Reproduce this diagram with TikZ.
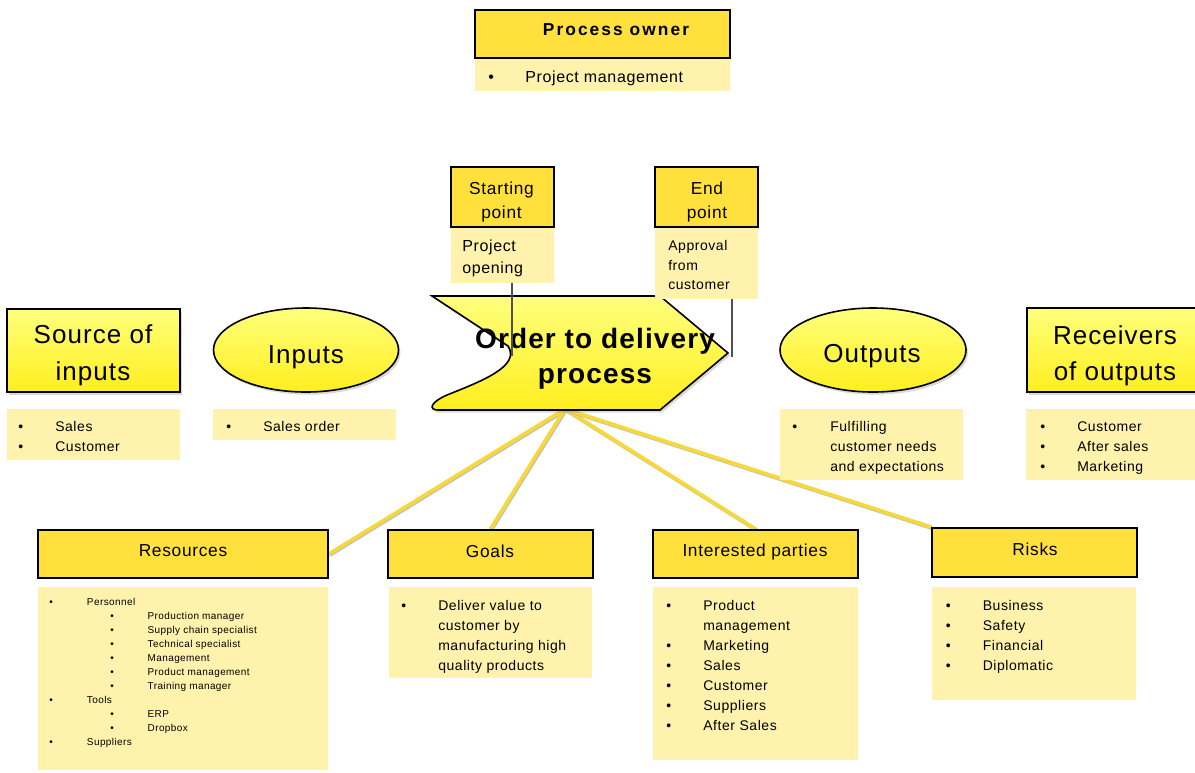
\documentclass[tikz,border=0pt]{standalone}
\usepackage{fontspec}
\setmainfont{Liberation Sans}[LetterSpace=4]
\usetikzlibrary{shapes.geometric,shadows,fit,backgrounds}
\definecolor{hdrY}{RGB}{255,224,60}
\definecolor{bodyY}{RGB}{255,242,172}
\definecolor{gradTop}{RGB}{255,255,125}
\definecolor{gradBot}{RGB}{255,238,30}
\definecolor{lineY}{RGB}{246,216,58}
\definecolor{gLine}{RGB}{80,80,80}
\begin{document}
\begin{tikzpicture}[x=0.75pt,y=-0.75pt,
  hdr/.style={draw=black, line width=1.5pt, fill=hdrY, inner sep=0pt,
    drop shadow={opacity=0.2, shadow xshift=1pt, shadow yshift=-1pt}},
  bodybox/.style={fill=bodyY, inner sep=0pt},
  bigbox/.style={draw=black, line width=1.4pt, top color=gradTop, bottom color=gradBot, inner sep=0pt,
    drop shadow={opacity=0.3, shadow xshift=1.5pt, shadow yshift=-2pt}},
  txt/.style={inner sep=0pt, anchor=base west},
  ctxt/.style={inner sep=0pt, anchor=base},
  bodyfont/.style={font=\fontsize{10.5}{15}\selectfont},
  hdrfont/.style={font=\fontsize{13}{18}\selectfont},
  bigfont/.style={font=\fontsize{19.5}{27.4}\selectfont},
  conn/.style={draw=lineY, line width=2.8pt,
    preaction={draw=black!25, line width=2.8pt, transform canvas={xshift=0.6pt, yshift=-0.8pt}}},
  gconn/.style={draw=gLine, line width=1.3pt}
]
\useasboundingbox (0,0) rectangle (1195,772);
\clip (0,0) rectangle (1195,772);

% ---------- process shape ----------
\path[draw=black, line width=1.2pt, top color=gradTop, bottom color=gradBot,
      drop shadow={opacity=0.3, shadow xshift=1.5pt, shadow yshift=-2pt}]
  (432,296) -- (660,296) -- (728,353) -- (660,410) -- (438,410)
  .. controls (429,410) and (429,403) .. (447,395)
  .. controls (482,381) and (521,366) .. (508,346) -- cycle;
\coordinate (procB) at (565,409);
\node[ctxt, font=\bfseries\fontsize{21}{26.25}\selectfont] (proc) at (595,348.3)
  {\begin{tabular}[t]{@{}c@{}}Order to delivery\\process\end{tabular}};

% ---------- process owner ----------
\node[bodybox, fit={(475,58)(730,91)}] (poB) {};
\node[hdr, fit={(475,10)(730,58)}] (po) {};
\node[ctxt, font=\bfseries\fontsize{13}{16}\selectfont\addfontfeature{LetterSpace=12}] (poT) at (616,35) {Process owner};
\node[txt, font=\fontsize{12}{15}\selectfont] (poL) at (488,82.5)
  {\begin{tabular}[t]{@{}p{27.75pt}@{}l@{}}•&Project management\end{tabular}};

% ---------- starting / end point ----------
\node[bodybox, fit={(451,227)(554,283)}] (stB) {};
\node[hdr, fit={(451,167)(554,227)}] (st) {};
\node[ctxt, hdrfont] (stT) at (501.5,194.3) {\begin{tabular}[t]{@{}c@{}}Starting\\point\end{tabular}};
\node[txt, font=\fontsize{12}{16}\selectfont] (stL) at (462,251.7)
  {\begin{tabular}[t]{@{}l@{}}Project\\opening\end{tabular}};

\node[bodybox, fit={(655,227)(758,299)}] (endB) {};
\node[hdr, fit={(655,167)(758,227)}] (en) {};
\node[ctxt, hdrfont] (enT) at (707,194.3) {\begin{tabular}[t]{@{}c@{}}End\\point\end{tabular}};
\node[txt, font=\fontsize{10.5}{14.5}\selectfont] (enL) at (668,250.7)
  {\begin{tabular}[t]{@{}l@{}}Approval\\from\\customer\end{tabular}};

\coordinate (sL) at (512,356);
\draw[gconn] (sL |- stB.south) -- (sL);
\coordinate (eL) at (732,357);
\draw[gconn] (eL |- endB.south) -- (eL);

% ---------- source of inputs / inputs ----------
\node[bigbox, fit={(7,309)(180,392)}] (src) {};
\node[ctxt, bigfont] (srcT) at (93,343.5) {\begin{tabular}[t]{@{}c@{}}Source of\\inputs\end{tabular}};
\node[bodybox, fit={(7,409)(180,460)}] (srcB) {};
\node[txt, bodyfont] (srcL) at (18,431.5)
  {\begin{tabular}[t]{@{}p{27.75pt}@{}l@{}}•&Sales\\•&Customer\end{tabular}};

\node[bigbox, ellipse, line width=1.2pt, minimum width=138.75pt, minimum height=63pt] (inE) at (306,350) {};
\node[ctxt, bigfont] (inT) at (306,363) {Inputs};
\node[bodybox, fit={(213,409)(396,440)}] (inB) {};
\node[txt, bodyfont] (inL) at (226,431.5)
  {\begin{tabular}[t]{@{}p{27.75pt}@{}l@{}}•&Sales order\end{tabular}};

% ---------- outputs / receivers ----------
\node[bigbox, ellipse, line width=1.2pt, minimum width=139.5pt, minimum height=63pt] (outE) at (873,350) {};
\node[ctxt, bigfont] (outT) at (872,362) {Outputs};
\node[bodybox, fit={(780,409)(963,480)}] (outB) {};
\node[txt, bodyfont] (outL) at (792,431.5)
  {\begin{tabular}[t]{@{}p{28.5pt}@{}l@{}}•&Fulfilling\\&customer needs\\&and expectations\end{tabular}};

\node[bigbox, fit={(1027,308)(1205,392)}] (rcv) {};
\node[ctxt, bigfont] (rcvT) at (1115,344) {\begin{tabular}[t]{@{}c@{}}Receivers\\of outputs\end{tabular}};
\node[bodybox, fit={(1026,409)(1205,480)}] (rcvB) {};
\node[txt, bodyfont] (rcvL) at (1040,431.5)
  {\begin{tabular}[t]{@{}p{27.75pt}@{}l@{}}•&Customer\\•&After sales\\•&Marketing\end{tabular}};

% ---------- bottom row ----------
\node[bodybox, fit={(38,587)(328,770)}] (resB) {};
\node[hdr, fit={(38,530)(328,578)}] (res) {};
\node[ctxt, hdrfont] (resT) at (183,556) {Resources};
\node[txt, font=\fontsize{7.5}{10.5}\selectfont] (resL) at (49,605.7)
  {\begin{tabular}[t]{@{}p{28.3pt}@{}p{17.5pt}@{}p{28pt}@{}l@{}}
   •&\multicolumn{3}{@{}l@{}}{Personnel}\\
   &&•&Production manager\\
   &&•&Supply chain specialist\\
   &&•&Technical specialist\\
   &&•&Management\\
   &&•&Product management\\
   &&•&Training manager\\
   •&\multicolumn{3}{@{}l@{}}{Tools}\\
   &&•&ERP\\
   &&•&Dropbox\\
   •&\multicolumn{3}{@{}l@{}}{Suppliers}
  \end{tabular}};

\node[bodybox, fit={(389,587)(592,678)}] (goalsB) {};
\node[hdr, fit={(388,530)(593,578)}] (goals) {};
\node[ctxt, hdrfont] (goalsT) at (490,557) {Goals};
\node[txt, bodyfont] (goalsL) at (401,610)
  {\begin{tabular}[t]{@{}p{27.75pt}@{}l@{}}•&Deliver value to\\&customer by\\&manufacturing high\\&quality products\end{tabular}};

\node[bodybox, fit={(653,587)(858,760)}] (ipB) {};
\node[hdr, fit={(653,530)(858,578)}] (ip) {};
\node[ctxt, hdrfont] (ipT) at (755,556) {Interested parties};
\node[txt, bodyfont] (ipL) at (666,610)
  {\begin{tabular}[t]{@{}p{27.75pt}@{}l@{}}•&Product\\&management\\•&Marketing\\•&Sales\\•&Customer\\•&Suppliers\\•&After Sales\end{tabular}};

\node[bodybox, fit={(932,587)(1136,700)}] (riskB) {};
\node[hdr, fit={(932,528)(1137,577)}] (risk) {};
\node[ctxt, hdrfont] (riskT) at (1035,555.7) {Risks};
\node[txt, bodyfont] (riskL) at (945.5,610)
  {\begin{tabular}[t]{@{}p{27.75pt}@{}l@{}}•&Business\\•&Safety\\•&Financial\\•&Diplomatic\end{tabular}};

% ---------- connectors ----------
\begin{scope}[on background layer]
\draw[conn] (procB) -- (res.east);
\draw[conn] (procB) -- (goals.north);
\draw[conn] (procB) -- (ip.north);
\draw[conn] (procB) -- (risk.north west);
\end{scope}
\end{tikzpicture}
\end{document}
